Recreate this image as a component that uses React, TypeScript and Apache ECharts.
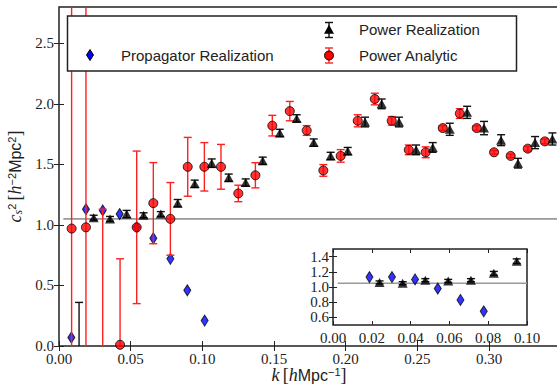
import React, { useEffect, useRef } from "react";
import * as echarts from "echarts";

// ---- Main panel data ----
const kAnalytic = [0.0088, 0.0188, 0.0305, 0.0426, 0.0542, 0.0658, 0.0777, 0.0898, 0.1014, 0.1130, 0.1251, 0.1370, 0.1488, 0.1610, 0.1728, 0.1844, 0.1965, 0.2084, 0.2203, 0.2321, 0.2440, 0.2558, 0.2677, 0.2796, 0.2914, 0.3035, 0.3151, 0.3270, 0.3389];
const csAnalytic = [0.97, 0.98, -0.10, 0.01, 0.98, 1.18, 1.05, 1.48, 1.48, 1.48, 1.26, 1.41, 1.82, 1.94, 1.78, 1.45, 1.57, 1.86, 2.04, 1.86, 1.62, 1.60, 1.80, 1.92, 1.80, 1.60, 1.57, 1.63, 1.69];
const errAnalytic = [3.0, 3.0, 1.23, 0.71, 0.63, 0.335, 0.30, 0.243, 0.20, 0.185, 0.068, 0.104, 0.085, 0.08, 0.04, 0.048, 0.052, 0.05, 0.048, 0.035, 0.04, 0.045, 0.02, 0.04, 0.02, 0.015, 0.015, 0.02, 0.02];

const kReal = [0.0140, 0.0242, 0.0356, 0.0472, 0.0590, 0.0710, 0.0828, 0.0947, 0.1065, 0.1184, 0.1302, 0.1421, 0.1540, 0.1658, 0.1777, 0.1895, 0.2014, 0.2135, 0.2251, 0.2372, 0.2491, 0.2607, 0.2726, 0.2847, 0.2965, 0.3084, 0.3202, 0.3321, 0.3442];
const csReal = [-0.15, 1.06, 1.05, 1.09, 1.08, 1.09, 1.18, 1.34, 1.51, 1.39, 1.35, 1.53, 1.76, 1.88, 1.68, 1.57, 1.61, 1.85, 2.00, 1.85, 1.62, 1.64, 1.79, 1.93, 1.80, 1.70, 1.51, 1.68, 1.71];
const errReal = [0.51, 0.02, 0.02, 0.03, 0.02, 0.02, 0.03, 0.03, 0.035, 0.03, 0.03, 0.03, 0.03, 0.03, 0.03, 0.03, 0.03, 0.04, 0.04, 0.04, 0.04, 0.04, 0.05, 0.05, 0.055, 0.045, 0.04, 0.05, 0.05];

const kProp = [0.0086, 0.0188, 0.0305, 0.0423, 0.0542, 0.0658, 0.0777, 0.0895, 0.1016];
const csProp = [0.07, 1.13, 1.12, 1.09, 0.98, 0.89, 0.72, 0.46, 0.21];

// ---- Inset data ----
const kPropIn = [0.0188, 0.0304, 0.0423, 0.0540, 0.0657, 0.0777];
const csPropIn = [1.13, 1.13, 1.10, 0.98, 0.83, 0.68];
const kRealIn = [0.0240, 0.0359, 0.0476, 0.0594, 0.0711, 0.0829, 0.0947];
const csRealIn = [1.06, 1.05, 1.09, 1.08, 1.09, 1.18, 1.34];
const errRealIn = [0.02, 0.02, 0.02, 0.02, 0.02, 0.025, 0.03];

// reference level
const refLevel = 1.05;
const refLineMainK = [0.003, 0.3488];
const refLineInsetK = [0.0024, 0.1];

// ticks
const mainXTicks = [0, 0.05, 0.1, 0.15, 0.2, 0.25, 0.3];
const mainYTicks = [0, 0.5, 1.0, 1.5, 2.0, 2.5];
const insetXTicks = [0, 0.02, 0.04, 0.06, 0.08, 0.1];
const insetYTicks = [0.6, 0.8, 1.0, 1.2, 1.4];

const legendLabels = ["Propagator Realization", "Power Realization", "Power Analytic"];

const SERIF = "Liberation Serif";
const SANS = "Liberation Sans";
const INK = "#222";

function errRender(color: string, capHalf: number) {
  return (params: any, api: any) => {
    const x = api.value(0);
    const y = api.value(1);
    const e = api.value(2);
    const lo = api.coord([x, y - e]);
    const hi = api.coord([x, y + e]);
    const cs = params.coordSys;
    const top = cs.y;
    const bot = cs.y + cs.height;
    const px = lo[0];
    const y1 = Math.max(hi[1], top);
    const y2 = Math.min(lo[1], bot);
    if (y1 >= y2) return null;
    const st = { stroke: color, lineWidth: 1.4 };
    const children: any[] = [
      { type: "line", shape: { x1: px, y1, x2: px, y2 }, style: st },
    ];
    if (hi[1] >= top) children.push({ type: "line", shape: { x1: px - capHalf, y1: hi[1], x2: px + capHalf, y2: hi[1] }, style: st });
    if (lo[1] <= bot) children.push({ type: "line", shape: { x1: px - capHalf, y1: lo[1], x2: px + capHalf, y2: lo[1] }, style: st });
    return { type: "group", children };
  };
}

const tickCommon = (len: number) => ({ show: true, inside: true, length: len, lineStyle: { color: INK, width: 1 } });

export default function App() {
  const ref = useRef<HTMLDivElement>(null);
  useEffect(() => {
    if (!ref.current) return;
    const chart = echarts.init(ref.current, null, { renderer: "svg" });

    const labelStyle = { fontFamily: SERIF, fontSize: 15, color: INK };

    const xName = "{it|k} {rm|[}{it|h}{sf|Mpc}{sup|−1}{rm|]}";
    const yName = "{it|c}{sub|s}{sup|2} {rm|[}{it|h}{sup|−2}{sf|Mpc}{sup|2}{rm|]}";
    const nameRich = {
      it: { fontFamily: SERIF, fontStyle: "italic", fontSize: 18, color: INK },
      rm: { fontFamily: SERIF, fontSize: 18, color: INK },
      sf: { fontFamily: SANS, fontSize: 16, color: INK },
      sup: { fontFamily: SANS, fontSize: 11, color: INK, verticalAlign: "top" },
      sub: { fontFamily: SERIF, fontStyle: "italic", fontSize: 12, color: INK, verticalAlign: "bottom" },
    };

    const option: any = {
      animation: false,
      backgroundColor: "#fff",
      grid: [
        { left: 59, top: 7, width: 500, height: 339, show: true, borderColor: INK, borderWidth: 1.5, backgroundColor: "transparent", outerBoundsMode: "none", containLabel: false },
        { left: 333, top: 249, width: 194, height: 76, show: true, borderColor: INK, borderWidth: 1.5, backgroundColor: "#fff", z: 20, outerBoundsMode: "none", containLabel: false },
      ],
      xAxis: [
        {
          gridIndex: 0, type: "value", min: 0, max: 0.3488, position: "bottom",
          axisLine: { show: false }, splitLine: { show: false },
          axisTick: { ...tickCommon(5), customValues: mainXTicks },
          axisLabel: { ...labelStyle, margin: 5, customValues: mainXTicks, formatter: (v: number) => v.toFixed(2) },
          name: xName, nameLocation: "middle", nameGap: 20, nameMoveOverlap: false,
          nameTextStyle: { rich: nameRich, verticalAlign: "top" },
        },
        {
          gridIndex: 0, type: "value", min: 0, max: 0.3488, position: "top",
          axisLine: { show: false }, splitLine: { show: false },
          axisTick: { ...tickCommon(5), customValues: mainXTicks },
          axisLabel: { show: false },
        },
        {
          gridIndex: 1, type: "value", min: 0, max: 0.1, position: "bottom", z: 20,
          axisLine: { show: false }, splitLine: { show: false },
          axisTick: { ...tickCommon(4), customValues: insetXTicks },
          axisLabel: { ...labelStyle, margin: 5, customValues: insetXTicks, formatter: (v: number) => v.toFixed(2) },
        },
        {
          gridIndex: 1, type: "value", min: 0, max: 0.1, position: "top", z: 20,
          axisLine: { show: false }, splitLine: { show: false },
          axisTick: { ...tickCommon(4), customValues: insetXTicks },
          axisLabel: { show: false },
        },
      ],
      yAxis: [
        {
          gridIndex: 0, type: "value", min: 0, max: 2.8, position: "left",
          axisLine: { show: false }, splitLine: { show: false },
          axisTick: { ...tickCommon(5), customValues: mainYTicks },
          axisLabel: { ...labelStyle, margin: 5, customValues: mainYTicks, formatter: (v: number) => v.toFixed(1) },
          name: yName, nameLocation: "middle", nameGap: 33, nameRotate: 90,
          nameTextStyle: { rich: nameRich },
        },
        {
          gridIndex: 0, type: "value", min: 0, max: 2.8, position: "right",
          axisLine: { show: false }, splitLine: { show: false },
          axisTick: { ...tickCommon(5), customValues: mainYTicks },
          axisLabel: { show: false },
        },
        {
          gridIndex: 1, type: "value", min: 0.5, max: 1.5, position: "left", z: 20,
          axisLine: { show: false }, splitLine: { show: false },
          axisTick: { ...tickCommon(4), customValues: insetYTicks },
          axisLabel: { ...labelStyle, margin: 4, customValues: insetYTicks, formatter: (v: number) => v.toFixed(1) },
        },
        {
          gridIndex: 1, type: "value", min: 0.5, max: 1.5, position: "right", z: 20,
          axisLine: { show: false }, splitLine: { show: false },
          axisTick: { ...tickCommon(4), customValues: insetYTicks },
          axisLabel: { show: false },
        },
      ],
      series: [
        {
          type: "line", xAxisIndex: 0, yAxisIndex: 0, z: 1,
          data: refLineMainK.map((k) => [k, refLevel]),
          symbol: "none", lineStyle: { color: "#999", width: 1.6 }, silent: true,
        },
        {
          type: "scatter", xAxisIndex: 0, yAxisIndex: 0, z: 2,
          data: kProp.map((k, i) => [k, csProp[i]]),
          symbol: "diamond", symbolSize: [7, 11],
          itemStyle: { color: "#0000ff", borderColor: "#000", borderWidth: 1 },
        },
        {
          type: "custom", xAxisIndex: 0, yAxisIndex: 0, z: 3,
          data: kAnalytic.map((k, i) => [k, csAnalytic[i], errAnalytic[i]]),
          encode: { x: 0, y: 1 },
          renderItem: errRender("#ff2020", 4),
        },
        {
          type: "scatter", xAxisIndex: 0, yAxisIndex: 0, z: 4,
          data: kAnalytic.map((k, i) => [k, csAnalytic[i]]),
          symbol: "circle", symbolSize: 9,
          itemStyle: { color: "#ff0000", borderColor: "#000", borderWidth: 1 },
        },
        {
          type: "custom", xAxisIndex: 0, yAxisIndex: 0, z: 5,
          data: kReal.map((k, i) => [k, csReal[i], errReal[i]]),
          encode: { x: 0, y: 1 },
          renderItem: errRender("#111", 4),
        },
        {
          type: "scatter", xAxisIndex: 0, yAxisIndex: 0, z: 6,
          data: kReal.map((k, i) => [k, csReal[i]]),
          symbol: "triangle", symbolSize: [10, 9],
          itemStyle: { color: "#000" },
        },
        {
          type: "line", xAxisIndex: 2, yAxisIndex: 2, z: 21,
          data: refLineInsetK.map((k) => [k, refLevel]),
          symbol: "none", lineStyle: { color: "#999", width: 1.6 }, silent: true,
        },
        {
          type: "scatter", xAxisIndex: 2, yAxisIndex: 2, z: 22,
          data: kPropIn.map((k, i) => [k, csPropIn[i]]),
          symbol: "diamond", symbolSize: [7, 11],
          itemStyle: { color: "#0000ff", borderColor: "#000", borderWidth: 1 },
        },
        {
          type: "custom", xAxisIndex: 2, yAxisIndex: 2, z: 23,
          data: kRealIn.map((k, i) => [k, csRealIn[i], errRealIn[i]]),
          encode: { x: 0, y: 1 },
          renderItem: errRender("#111", 4),
        },
        {
          type: "scatter", xAxisIndex: 2, yAxisIndex: 2, z: 24,
          data: kRealIn.map((k, i) => [k, csRealIn[i]]),
          symbol: "triangle", symbolSize: [10, 9],
          itemStyle: { color: "#000" },
        },
      ],
      graphic: [
        {
          type: "group", z: 100,
          children: [
            { type: "rect", shape: { x: 67.5, y: 16, width: 449, height: 55 }, style: { fill: "#fff", stroke: INK, lineWidth: 1.5 }, z: 100 },
            { type: "polygon", shape: { points: [[90, 49.5], [93.5, 55], [90, 60.5], [86.5, 55]] }, style: { fill: "#0000ff", stroke: "#000", lineWidth: 1 }, z: 101 },
            { type: "text", x: 121, y: 55, style: { text: legendLabels[0], fontFamily: SANS, fontSize: 15, fill: INK, verticalAlign: "middle", align: "left" }, z: 101 },
            { type: "line", shape: { x1: 329, y1: 22.5, x2: 329, y2: 37.5 }, style: { stroke: "#111", lineWidth: 1.4 }, z: 101 },
            { type: "line", shape: { x1: 325, y1: 22.5, x2: 333, y2: 22.5 }, style: { stroke: "#111", lineWidth: 1.4 }, z: 101 },
            { type: "line", shape: { x1: 325, y1: 37.5, x2: 333, y2: 37.5 }, style: { stroke: "#111", lineWidth: 1.4 }, z: 101 },
            { type: "polygon", shape: { points: [[329, 24.8], [334, 33.8], [324, 33.8]] }, style: { fill: "#000" }, z: 102 },
            { type: "text", x: 359, y: 29, style: { text: legendLabels[1], fontFamily: SANS, fontSize: 15, fill: INK, verticalAlign: "middle", align: "left" }, z: 101 },
            { type: "line", shape: { x1: 329, y1: 48, x2: 329, y2: 63 }, style: { stroke: "#ff2020", lineWidth: 1.4 }, z: 101 },
            { type: "line", shape: { x1: 325, y1: 48, x2: 333, y2: 48 }, style: { stroke: "#ff2020", lineWidth: 1.4 }, z: 101 },
            { type: "line", shape: { x1: 325, y1: 63, x2: 333, y2: 63 }, style: { stroke: "#ff2020", lineWidth: 1.4 }, z: 101 },
            { type: "circle", shape: { cx: 329, cy: 55.5, r: 4.5 }, style: { fill: "#ff0000", stroke: "#000", lineWidth: 1 }, z: 102 },
            { type: "text", x: 359, y: 55, style: { text: legendLabels[2], fontFamily: SANS, fontSize: 15, fill: INK, verticalAlign: "middle", align: "left" }, z: 101 },
          ],
        },
      ],
    };
    chart.setOption(option);
    return () => chart.dispose();
  }, []);
  return <div ref={ref} style={{ width: 557, height: 385, position: "absolute", left: 0, top: 0 }} />;
}
